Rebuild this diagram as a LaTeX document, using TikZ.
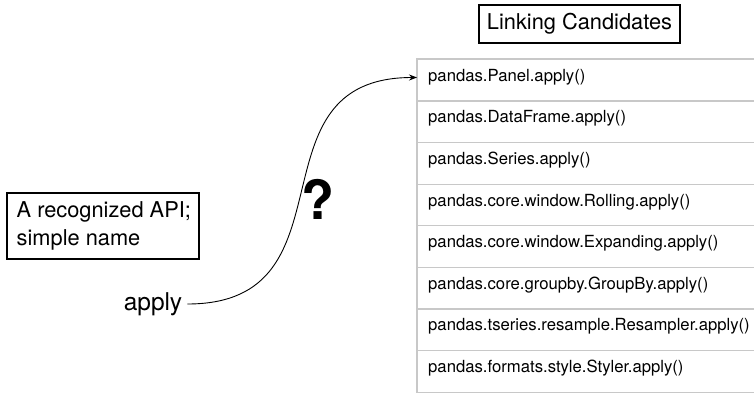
\documentclass[tikz,border=0pt]{standalone}
\usepackage{fontspec}
\setmainfont{TeX Gyre Heros}
\usetikzlibrary{arrows.meta,calc}

\definecolor{gridgray}{HTML}{C8C8C8}

\tikzset{
  blackbox/.style={draw=black, line width=1.1pt, inner sep=0pt},
  bigtext/.style={font=\fontsize{21.8}{28}\selectfont},
  rowcell/.style={minimum width=345pt, minimum height=41.6pt, inner sep=0pt,
                  anchor=north west},
  gridline/.style={draw=gridgray, line width=1.3pt},
  rowtext/.style={font=\fontsize{16.7}{20}\selectfont, anchor=west, inner sep=0pt},
  linkarrow/.style={line width=0.9pt, -{Stealth[length=8pt,width=6pt]}}
}

\begin{document}
\begin{tikzpicture}[x=1pt,y=-1pt]
  \useasboundingbox (0,0) rectangle (754,394);

  % heading of the candidate list
  \node[blackbox, bigtext, minimum width=201pt, minimum height=38pt] (head) at (579.5,24) {Linking Candidates};

  % candidate rows
  \foreach \i/\txt in {0/pandas.Panel.apply(),
                       1/pandas.DataFrame.apply(),
                       2/pandas.Series.apply(),
                       3/pandas.core.window.Rolling.apply(),
                       4/pandas.core.window.Expanding.apply(),
                       5/pandas.core.groupby.GroupBy.apply(),
                       6/pandas.tseries.resample.Resampler.apply(),
                       7/pandas.formats.style.Styler.apply()} {
    \node[rowcell] (row\i) at (417,{59+41.6*\i}) {};
    \node[rowtext] (rowlabel\i) at ($(row\i.west)+(11,-3)$) {\txt};
  }

  % table rules: left edge and one line above and below each row
  \draw[gridline] (row0.north east) -- (row0.north west) -- (row7.south west) -- (row7.south east);
  \foreach \i in {0,...,6} {
    \draw[gridline] (row\i.south west) -- (row\i.south east);
  }

  % recognized API note
  \node[blackbox, minimum width=192pt, minimum height=66pt] (note) at (103,226) {};
  \node[bigtext, align=left, anchor=west, inner sep=0pt] (notetext)
        at ($(note.west)+(10,0)$) {A recognized API;\\simple name};

  % the mention and its link to the first candidate
  \node[font=\fontsize{24.5}{28}\selectfont, inner xsep=5pt, inner ysep=0pt] (mention) at (153,304) {apply};
  \coordinate (target) at ($(row0.west)+(0,-2.5)$);
  \draw[linkarrow] (mention.east) .. controls +(172,0) and +(-172,0) .. (target);

  % question mark over the link
  \node[font=\fontsize{54}{54}\selectfont\bfseries, inner sep=0pt] (qmark) at (318,199) {?};
\end{tikzpicture}
\end{document}
